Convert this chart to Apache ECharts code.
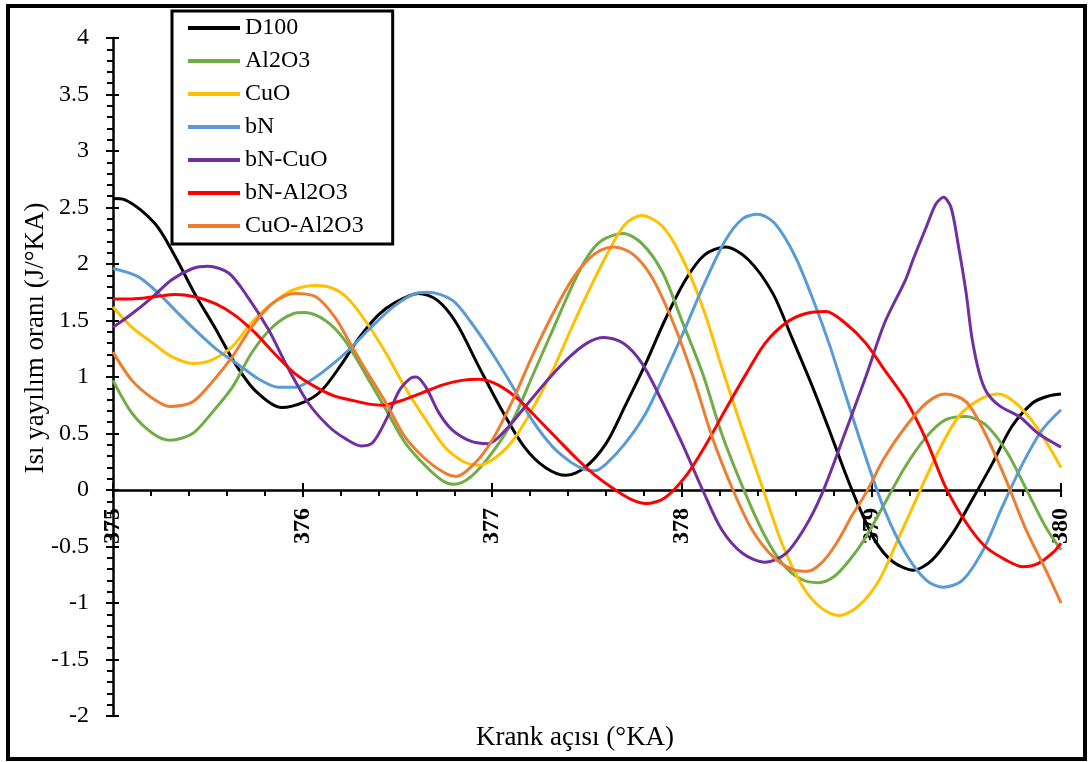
<!DOCTYPE html>
<html>
<head>
<meta charset="utf-8">
<script src="https://cdn.jsdelivr.net/npm/echarts@6/dist/echarts.min.js"></script>
<style>
  html, body { margin: 0; padding: 0; background: #fff; }
  #chart { width: 1091px; height: 762px; }
</style>
</head>
<body>
<div id="chart"></div>
<script>
// Heat release rate vs crank angle, [angle (°KA), rate (J/°KA)]
const seriesNames = ['D100', 'Al2O3', 'CuO', 'bN', 'bN-CuO', 'bN-Al2O3', 'CuO-Al2O3'];
const seriesColors = ['#000000', '#70AD47', '#FFC000', '#5B9BD5', '#7030A0', '#FF0000', '#ED7D31'];

const d100 = [
  [375, 2.58], [375.06, 2.57], [375.22, 2.36], [375.33, 2.06], [375.43, 1.74], [375.54, 1.43],
  [375.64, 1.13], [375.75, 0.88], [375.89, 0.73], [376.01, 0.78], [376.10, 0.88], [376.20, 1.10],
  [376.30, 1.35], [376.40, 1.55], [376.49, 1.66], [376.61, 1.74], [376.71, 1.68], [376.81, 1.48],
  [376.93, 1.09], [377.05, 0.71], [377.17, 0.38], [377.28, 0.20], [377.39, 0.13], [377.49, 0.20],
  [377.60, 0.41], [377.70, 0.74], [377.81, 1.12], [377.91, 1.50], [378.02, 1.86], [378.12, 2.08],
  [378.23, 2.15], [378.35, 2.04], [378.48, 1.74], [378.58, 1.35], [378.69, 0.91], [378.78, 0.52],
  [378.86, 0.16], [378.94, -0.17], [379.02, -0.45], [379.11, -0.63], [379.22, -0.71], [379.32, -0.62],
  [379.43, -0.38], [379.53, -0.09], [379.64, 0.24], [379.74, 0.56], [379.85, 0.77], [379.93, 0.83],
  [380, 0.85]
];
const al2o3 = [
  [375, 0.97], [375.10, 0.68], [375.21, 0.50], [375.30, 0.44], [375.42, 0.50], [375.52, 0.68],
  [375.63, 0.91], [375.73, 1.21], [375.84, 1.44], [375.95, 1.56], [376.01, 1.57], [376.12, 1.50],
  [376.22, 1.33], [376.33, 1.03], [376.44, 0.71], [376.54, 0.42], [376.65, 0.21], [376.74, 0.08],
  [376.80, 0.05], [376.89, 0.12], [377.00, 0.33], [377.11, 0.62], [377.21, 1.00], [377.32, 1.42],
  [377.42, 1.80], [377.50, 2.06], [377.58, 2.21], [377.69, 2.27], [377.79, 2.18], [377.90, 1.92],
  [378.00, 1.50], [378.11, 1.03], [378.21, 0.50], [378.32, 0.03], [378.43, -0.38], [378.53, -0.65],
  [378.63, -0.79], [378.72, -0.82], [378.80, -0.77], [378.88, -0.63], [378.97, -0.42], [379.07, -0.12],
  [379.18, 0.21], [379.29, 0.47], [379.39, 0.62], [379.50, 0.65], [379.60, 0.58], [379.71, 0.35],
  [379.81, 0.03], [379.92, -0.33], [380, -0.53]
];
const cuo = [
  [375, 1.62], [375.10, 1.44], [375.21, 1.30], [375.31, 1.18], [375.42, 1.12], [375.52, 1.15],
  [375.63, 1.27], [375.73, 1.48], [375.84, 1.65], [375.95, 1.77], [376.07, 1.81], [376.15, 1.79],
  [376.23, 1.71], [376.33, 1.50], [376.44, 1.21], [376.54, 0.91], [376.65, 0.62], [376.75, 0.38],
  [376.85, 0.25], [376.93, 0.22], [377.02, 0.29], [377.11, 0.44], [377.21, 0.71], [377.32, 1.06],
  [377.42, 1.44], [377.52, 1.80], [377.61, 2.10], [377.70, 2.35], [377.79, 2.43], [377.90, 2.33],
  [378.00, 2.06], [378.11, 1.62], [378.21, 1.09], [378.32, 0.53], [378.43, 0.00], [378.53, -0.48],
  [378.64, -0.86], [378.74, -1.05], [378.83, -1.11], [378.93, -1.03], [379.04, -0.80], [379.14, -0.44],
  [379.25, -0.03], [379.35, 0.33], [379.46, 0.65], [379.57, 0.80], [379.67, 0.85], [379.76, 0.77],
  [379.87, 0.56], [380, 0.20]
];
const bn = [
  [375, 1.96], [375.13, 1.89], [375.24, 1.74], [375.34, 1.57], [375.45, 1.39], [375.55, 1.24],
  [375.66, 1.11], [375.77, 0.98], [375.87, 0.91], [375.96, 0.91], [376.07, 1.00], [376.17, 1.13],
  [376.25, 1.25], [376.35, 1.42], [376.47, 1.61], [376.58, 1.73], [376.66, 1.75], [376.79, 1.68],
  [376.89, 1.48], [377.00, 1.21], [377.11, 0.91], [377.21, 0.62], [377.32, 0.38], [377.42, 0.24],
  [377.49, 0.18], [377.54, 0.17], [377.60, 0.23], [377.70, 0.41], [377.81, 0.68], [377.91, 1.03],
  [378.02, 1.44], [378.12, 1.83], [378.23, 2.21], [378.32, 2.40], [378.40, 2.44], [378.49, 2.36],
  [378.60, 2.06], [378.70, 1.65], [378.78, 1.28], [378.86, 0.86], [378.97, 0.29], [379.07, -0.18],
  [379.18, -0.56], [379.29, -0.80], [379.38, -0.86], [379.48, -0.80], [379.59, -0.53], [379.69, -0.15],
  [379.80, 0.24], [379.90, 0.53], [380, 0.71]
];
const bnCuo = [
  [375, 1.44], [375.10, 1.56], [375.21, 1.71], [375.31, 1.86], [375.42, 1.96], [375.50, 1.98],
  [375.61, 1.92], [375.71, 1.71], [375.82, 1.42], [375.92, 1.09], [376.03, 0.77], [376.14, 0.56],
  [376.23, 0.45], [376.31, 0.39], [376.37, 0.42], [376.44, 0.62], [376.51, 0.88], [376.57, 0.99],
  [376.60, 1.00], [376.65, 0.91], [376.72, 0.68], [376.79, 0.53], [376.89, 0.43], [376.98, 0.41],
  [377.07, 0.53], [377.17, 0.73], [377.28, 0.95], [377.39, 1.15], [377.50, 1.30], [377.59, 1.35],
  [377.69, 1.30], [377.79, 1.12], [377.90, 0.77], [378.00, 0.42], [378.11, 0.00], [378.21, -0.35],
  [378.32, -0.56], [378.44, -0.64], [378.55, -0.56], [378.65, -0.33], [378.74, -0.03], [378.86, 0.50],
  [378.97, 1.00], [379.07, 1.48], [379.18, 1.86], [379.22, 2.04], [379.29, 2.33], [379.34, 2.53],
  [379.38, 2.59], [379.42, 2.50], [379.46, 2.15], [379.50, 1.74], [379.53, 1.35], [379.57, 1.03],
  [379.61, 0.86], [379.68, 0.74], [379.78, 0.65], [379.88, 0.50], [380, 0.38]
];
const bnAl2o3 = [
  [375, 1.69], [375.10, 1.69], [375.22, 1.71], [375.33, 1.73], [375.43, 1.71], [375.54, 1.65],
  [375.64, 1.55], [375.75, 1.39], [375.85, 1.21], [375.96, 1.03], [376.07, 0.91], [376.17, 0.83],
  [376.27, 0.79], [376.35, 0.76], [376.42, 0.75], [376.52, 0.79], [376.63, 0.86], [376.74, 0.93],
  [376.84, 0.97], [376.93, 0.98], [377.03, 0.93], [377.14, 0.80], [377.24, 0.63], [377.35, 0.44],
  [377.45, 0.27], [377.55, 0.12], [377.65, 0.00], [377.73, -0.08], [377.81, -0.12], [377.91, -0.07],
  [378.02, 0.12], [378.12, 0.38], [378.23, 0.71], [378.34, 1.03], [378.44, 1.30], [378.55, 1.48],
  [378.65, 1.56], [378.76, 1.58], [378.86, 1.48], [378.97, 1.30], [379.07, 1.06], [379.18, 0.80],
  [379.29, 0.44], [379.39, 0.03], [379.50, -0.29], [379.60, -0.50], [379.71, -0.62], [379.80, -0.68],
  [379.88, -0.65], [379.96, -0.55], [380, -0.47]
];
const cuoAl2o3 = [
  [375, 1.22], [375.10, 0.97], [375.21, 0.81], [375.30, 0.74], [375.42, 0.78], [375.52, 0.95],
  [375.63, 1.18], [375.73, 1.44], [375.84, 1.65], [375.96, 1.74], [376.07, 1.71], [376.17, 1.53],
  [376.25, 1.30], [376.33, 1.07], [376.44, 0.77], [376.54, 0.47], [376.65, 0.27], [376.75, 0.15],
  [376.81, 0.12], [376.91, 0.24], [377.00, 0.44], [377.11, 0.80], [377.21, 1.18], [377.32, 1.56],
  [377.42, 1.86], [377.50, 2.03], [377.57, 2.12], [377.64, 2.15], [377.74, 2.09], [377.84, 1.89],
  [377.95, 1.50], [378.06, 1.00], [378.16, 0.47], [378.27, 0.00], [378.37, -0.35], [378.48, -0.59],
  [378.58, -0.70], [378.66, -0.72], [378.74, -0.64], [378.82, -0.46], [378.90, -0.22], [378.97, -0.03],
  [379.07, 0.29], [379.18, 0.56], [379.29, 0.77], [379.39, 0.85], [379.50, 0.78], [379.60, 0.50],
  [379.71, 0.09], [379.81, -0.33], [379.92, -0.71], [380, -1.00]
];
const seriesData = [d100, al2o3, cuo, bn, bnCuo, bnAl2o3, cuoAl2o3];

// Axis ranges and titles
const xRange = [375, 380];
const yRange = [-2, 4];
const xTitle = 'Krank açısı (°KA)';
const yTitle = 'Isı yayılım oranı (J/°KA)';

// Plot area geometry (px); the angle axis crosses the value axis at zero
const GRID = { left: 113, right: 30, top: 38, bottom: 46 };
const plotW = 1091 - GRID.left - GRID.right;
const plotH = 762 - GRID.top - GRID.bottom;
const zeroFromBottom = plotH * (0 - yRange[0]) / (yRange[1] - yRange[0]);

const FONT = '"Liberation Serif", "Times New Roman", serif';
const chart = echarts.init(document.getElementById('chart'), null, { renderer: 'canvas' });

const tickStyle = { color: '#000', width: 2 };

chart.setOption({
  animation: false,
  backgroundColor: '#fff',
  grid: GRID,
  legend: {
    orient: 'vertical',
    left: 172,
    top: 11,
    padding: [5, 29, 6, 16],
    backgroundColor: '#fff',
    borderColor: '#000',
    borderWidth: 3,
    borderRadius: 0,
    itemWidth: 52,
    itemHeight: 4,
    itemGap: 9,
    icon: 'rect',
    textStyle: { fontFamily: FONT, fontSize: 24, lineHeight: 24, color: '#000' },
    data: seriesNames
  },
  xAxis: [
    {
      // main angle axis with labels, ticks pointing down
      type: 'value', min: xRange[0], max: xRange[1], interval: 1,
      position: 'bottom', offset: -zeroFromBottom,
      axisLine: { show: true, onZero: false, lineStyle: { color: '#000', width: 2.5 } },
      axisTick: { show: true, inside: false, length: 7, lineStyle: tickStyle },
      minorTick: { show: true, splitNumber: 5, length: 6, lineStyle: tickStyle },
      axisLabel: {
        rotate: 90, margin: 18, color: '#000', fontFamily: FONT, fontSize: 24, fontWeight: 'bold',
        showMinLabel: true, showMaxLabel: true
      },
      splitLine: { show: false }
    },
    {
      // upper half of the crossing major ticks
      type: 'value', min: xRange[0], max: xRange[1], interval: 1,
      position: 'top', offset: -(plotH - zeroFromBottom),
      axisLine: { show: false, onZero: false },
      axisTick: { show: true, inside: false, length: 7, lineStyle: tickStyle },
      axisLabel: { show: false },
      splitLine: { show: false }
    }
  ],
  yAxis: [
    {
      type: 'value', min: yRange[0], max: yRange[1], interval: 0.5,
      position: 'left',
      axisLine: { show: true, onZero: false, lineStyle: { color: '#000', width: 2.5 } },
      axisTick: { show: true, inside: false, length: 7, lineStyle: tickStyle },
      minorTick: { show: true, splitNumber: 5, length: 6, lineStyle: tickStyle },
      axisLabel: { margin: 24, color: '#000', fontFamily: FONT, fontSize: 24 },
      splitLine: { show: false }
    },
    {
      // right half of the crossing major ticks
      type: 'value', min: yRange[0], max: yRange[1], interval: 0.5,
      position: 'right', offset: -plotW,
      axisLine: { show: false, onZero: false },
      axisTick: { show: true, inside: false, length: 6, lineStyle: tickStyle },
      axisLabel: { show: false },
      splitLine: { show: false }
    }
  ],
  graphic: [
    {
      type: 'rect', silent: true, z: 100,
      shape: { x: 8, y: 6, width: 1077, height: 753 },
      style: { fill: 'none', stroke: '#000', lineWidth: 4 }
    },
    {
      type: 'text', x: 575, y: 738,
      style: { text: xTitle, font: '27px ' + FONT, fill: '#000', align: 'center', verticalAlign: 'middle' }
    },
    {
      type: 'text', x: 36, y: 338, rotation: Math.PI / 2,
      style: { text: yTitle, font: '27px ' + FONT, fill: '#000', align: 'center', verticalAlign: 'middle' }
    }
  ],
  series: seriesNames.map((name, i) => ({
    name,
    type: 'line',
    xAxisIndex: 0,
    yAxisIndex: 0,
    data: seriesData[i],
    color: seriesColors[i],
    showSymbol: false,
    symbol: 'none',
    smooth: 0.3,
    lineStyle: { width: 3, color: seriesColors[i] }
  }))
});
</script>
</body>
</html>
